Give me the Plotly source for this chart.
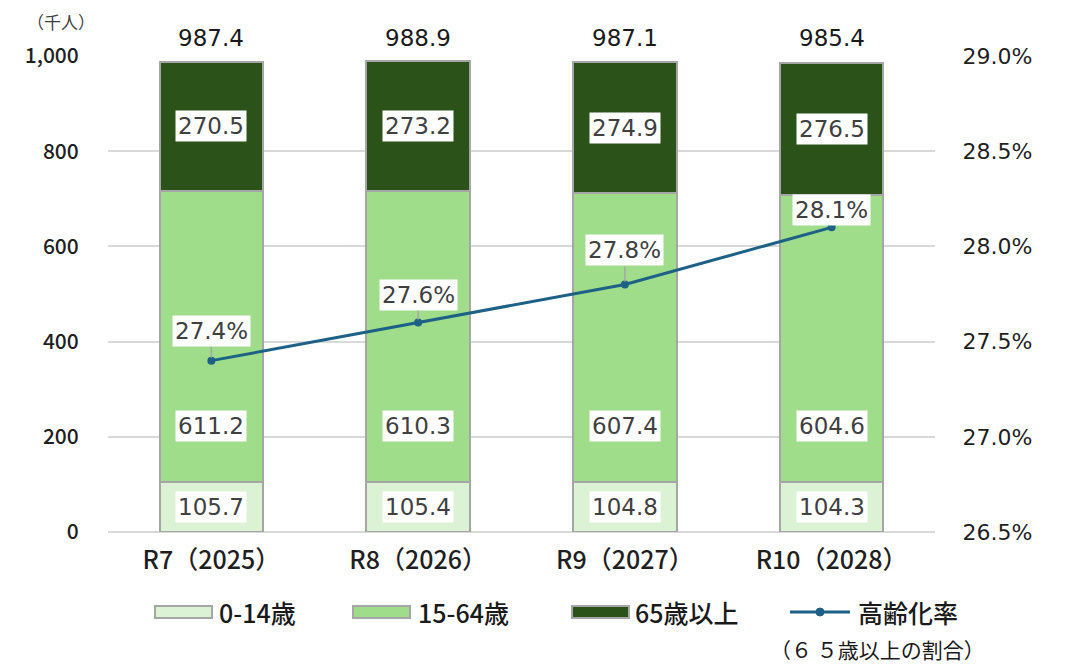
import plotly.graph_objects as go

categories = ["R7（2025）", "R8（2026）", "R9（2027）", "R10（2028）"]
age_0_14 = [105.7, 105.4, 104.8, 104.3]
age_15_64 = [611.2, 610.3, 607.4, 604.6]
age_65_plus = [270.5, 273.2, 274.9, 276.5]
aging_rate = [27.4, 27.6, 27.8, 28.1]
series_names = ["0-14歳", "15-64歳", "65歳以上", "高齢化率"]
totals = [round(a + b + c, 1) for a, b, c in zip(age_0_14, age_15_64, age_65_plus)]

JP = "Noto Sans CJK JP"
NUM = "DejaVu Sans"
TXT = "#1f1f1f"
C_YOUNG, C_WORK, C_OLD, C_LINE = "#dcf2d4", "#a0dd8a", "#2a5219", "#1d6186"
GRAY = "#a6a6a6"
OUTLINE = dict(color=GRAY, width=2)

fig = go.Figure()
for vals, col, nm in [(age_0_14, C_YOUNG, series_names[0]),
                      (age_15_64, C_WORK, series_names[1]),
                      (age_65_plus, C_OLD, series_names[2])]:
    fig.add_trace(go.Bar(x=categories, y=vals, name=nm, showlegend=False,
                         marker=dict(color=col, line=OUTLINE)))
fig.add_trace(go.Scatter(x=categories, y=aging_rate, name=series_names[3], yaxis="y2",
                         mode="lines+markers", showlegend=False,
                         line=dict(color=C_LINE, width=3),
                         marker=dict(color=C_LINE, size=8)))

# plot area geometry (px) for paper conversions
L, R, T, B = 108, 1068 - 133, 56, 664 - 132
def px(x):
    return (x - L) / (R - L)
def py(y):
    return (B - y) / (B - T)

ann = []
lab_font = dict(family=NUM, size=23, color="#404040")
for i, c in enumerate(categories):
    a, b, d = age_0_14[i], age_15_64[i], age_65_plus[i]
    ann.append(dict(x=c, y=a / 2, text=f"{a:.1f}", showarrow=False,
                    bgcolor="white", font=lab_font, borderpad=2))
    ann.append(dict(x=c, y=222, text=f"{b:.1f}", showarrow=False,
                    bgcolor="white", font=lab_font, borderpad=2))
    ann.append(dict(x=c, y=a + b + d / 2, text=f"{d:.1f}", showarrow=False,
                    bgcolor="white", font=lab_font, borderpad=2))
    ann.append(dict(x=c, y=1000, yanchor="bottom", yshift=3, text=f"{totals[i]:.1f}",
                    showarrow=False, font=dict(family=NUM, size=23, color="#1a1a1a")))
offsets = [-14, -12, -18, -1]
for i, c in enumerate(categories):
    ann.append(dict(x=c, y=aging_rate[i], yref="y2", text=f"{aging_rate[i]:.1f}%",
                    showarrow=True, arrowhead=0, arrowwidth=1.5, arrowcolor=GRAY,
                    ax=0, ay=offsets[i], yanchor="bottom", bgcolor="white",
                    font=lab_font, borderpad=2, standoff=3))
ann.append(dict(xref="paper", yref="paper", x=px(61), y=py(21), xanchor="center",
                yanchor="middle", text="（千人）", showarrow=False,
                font=dict(family=JP, size=17, color="#404040")))
ann.append(dict(xref="paper", yref="paper", x=px(877), y=py(649), xanchor="center",
                yanchor="middle", text="（６ ５歳以上の割合）", showarrow=False,
                font=dict(family=JP, size=21, color="#1a1a1a")))

# legend drawn as shapes + text
shapes = []
leg_y = 612
leg_font = dict(family=JP, size=25, color="#1a1a1a", weight=500)
sym_x = [155, 353, 572, 790]
txt_x = [217, 416, 633, 856]
for k, col in enumerate([C_YOUNG, C_WORK, C_OLD]):
    shapes.append(dict(type="rect", xref="paper", yref="paper",
                       x0=px(sym_x[k]), x1=px(sym_x[k] + 57),
                       y0=py(leg_y + 6), y1=py(leg_y - 6),
                       fillcolor=col, line=dict(color=GRAY, width=2)))
shapes.append(dict(type="line", xref="paper", yref="paper",
                   x0=px(sym_x[3]), x1=px(sym_x[3] + 60), y0=py(leg_y), y1=py(leg_y),
                   line=dict(color=C_LINE, width=3)))
shapes.append(dict(type="circle", xref="paper", yref="paper",
                   x0=px(sym_x[3] + 26), x1=px(sym_x[3] + 34),
                   y0=py(leg_y + 4), y1=py(leg_y - 4),
                   fillcolor=C_LINE, line=dict(color=C_LINE, width=1)))
for k, nm in enumerate(series_names):
    ann.append(dict(xref="paper", yref="paper", x=px(txt_x[k]), y=py(leg_y),
                    xanchor="left", yanchor="middle", text=nm, showarrow=False,
                    font=leg_font))

fig.update_layout(
    width=1068, height=664,
    margin=dict(l=L, r=1068 - R, t=T, b=664 - B),
    paper_bgcolor="white", plot_bgcolor="white",
    barmode="stack", bargap=0.5,
    showlegend=False,
    xaxis=dict(tickfont=dict(family=JP, size=25, color=TXT, weight=500), showline=False,
               ticks="outside", ticklen=6, tickcolor="rgba(0,0,0,0)"),
    yaxis=dict(range=[0, 1000], dtick=200, tickformat=",d",
               showgrid=True, gridcolor="#d9d9d9", gridwidth=2,
               zeroline=True, zerolinecolor="#d9d9d9", zerolinewidth=2,
               tickfont=dict(family=JP, size=21, color=TXT, weight=500),
               ticks="outside", ticklen=24, tickcolor="rgba(0,0,0,0)"),
    yaxis2=dict(range=[26.5, 29.0], dtick=0.5, tickformat=".1f", ticksuffix="%",
                overlaying="y", side="right", showgrid=False, zeroline=False,
                tickfont=dict(family=NUM, size=22, color=TXT),
                ticks="outside", ticklen=22, tickcolor="rgba(0,0,0,0)"),
    annotations=ann,
    shapes=shapes,
)

fig.write_html("out.html", config={"displayModeBar": False},
               post_script="document.body.style.margin='0';")
